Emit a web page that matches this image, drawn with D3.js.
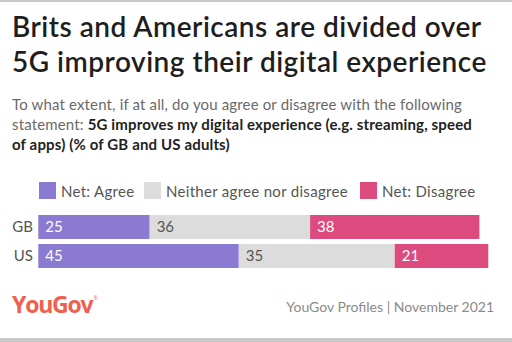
<!DOCTYPE html>
<html>
<head>
<meta charset="utf-8">
<script src="https://cdn.jsdelivr.net/npm/d3@7"></script>
<style>
  body { margin: 0; background: #fff; }
  svg { display: block; font-family: Lato, "Open Sans", sans-serif; }
</style>
</head>
<body>
<svg id="chart" width="512" height="342"></svg>
<script>
const countries = ["GB", "US"];
const seriesNames = ["Net: Agree", "Neither agree nor disagree", "Net: Disagree"];
const agree = [25, 45];
const neither = [36, 35];
const disagree = [38, 21];
const seriesColors = ["#8a7ad2", "#dcdcdc", "#dc4a7e"];
const labelColors = ["#ffffff", "#555555", "#ffffff"];

const svg = d3.select("#chart");

// frame lines top and bottom
svg.append("rect").attr("x", 0).attr("y", 0).attr("width", 512).attr("height", 2).attr("fill", "#c8c8c8");
svg.append("rect").attr("x", 0).attr("y", 338).attr("width", 512).attr("height", 4).attr("fill", "#c8c8c8");

// title
const title = svg.append("text")
    .attr("fill", "#1e1e1e")
    .style("font-size", "28px")
    .style("font-weight", "600")
    .style("letter-spacing", "0.5px");
title.append("tspan").attr("x", 12).attr("y", 37).text("Brits and Americans are divided over");
title.append("tspan").attr("x", 12).attr("y", 72).text("5G improving their digital experience");

// subtitle with bold statement
const sub = svg.append("text").style("font-size", "15px").style("letter-spacing", "0.15px");
sub.append("tspan").attr("x", 12).attr("y", 110).attr("fill", "#6a6a6a")
    .text("To what extent, if at all, do you agree or disagree with the following");
sub.append("tspan").attr("x", 12).attr("y", 130).attr("fill", "#6a6a6a").text("statement: ");
sub.append("tspan").attr("fill", "#222").style("font-weight", "700")
    .text("5G improves my digital experience (e.g. streaming, speed");
sub.append("tspan").attr("x", 12).attr("y", 150).attr("fill", "#222").style("font-weight", "700")
    .text("of apps) (% of GB and US adults)");

// legend
const legendX = [39, 144, 360];
const legend = svg.selectAll("g.legend")
    .data(seriesNames)
    .enter()
    .append("g")
    .attr("class", "legend")
    .attr("transform", (d, i) => `translate(${legendX[i]},182)`);
legend.append("rect")
    .attr("width", 17)
    .attr("height", 17)
    .attr("fill", (d, i) => seriesColors[i]);
legend.append("text")
    .attr("x", 22)
    .attr("y", 14.5)
    .attr("fill", "#555")
    .style("font-size", "15px")
    .style("letter-spacing", "0.3px")
    .text(d => d);

// stacked bars
const rows = countries.map((c, i) => ({ country: c, agree: agree[i], neither: neither[i], disagree: disagree[i] }));
const keys = ["agree", "neither", "disagree"];
const stack = d3.stack().keys(keys)(rows);

const x = d3.scaleLinear().domain([0, 101]).range([38.3, 488.3]);
const y = d3.scaleBand().domain(countries).range([215, 268]).paddingInner(5 / 29).paddingOuter(0);

const layers = svg.selectAll("g.layer")
    .data(stack)
    .enter()
    .append("g")
    .attr("class", "layer");

layers.selectAll("rect")
    .data(d => d)
    .enter()
    .append("rect")
    .attr("x", d => x(d[0]))
    .attr("y", d => y(d.data.country))
    .attr("width", d => x(d[1]) - x(d[0]))
    .attr("height", y.bandwidth())
    .attr("fill", function() { return seriesColors[keys.indexOf(d3.select(this.parentNode).datum().key)]; });

layers.each(function(layer, li) {
    d3.select(this).selectAll("text")
        .data(layer)
        .enter()
        .append("text")
        .attr("x", d => x(d[0]) + 7)
        .attr("y", d => y(d.data.country) + y.bandwidth() / 2)
        .attr("dy", "0.36em")
        .attr("fill", labelColors[li])
        .style("font-size", "15px")
        .text(d => d[1] - d[0]);
});

// category labels
svg.selectAll("text.cat")
    .data(countries)
    .enter()
    .append("text")
    .attr("class", "cat")
    .attr("x", 33)
    .attr("y", d => y(d) + y.bandwidth() / 2)
    .attr("dy", "0.36em")
    .attr("text-anchor", "end")
    .attr("fill", "#555")
    .style("font-size", "15px")
    .text(d => d);

// footer
const logo = svg.append("text")
    .attr("x", 12)
    .attr("y", 313)
    .attr("fill", "#f0604f")
    .style("font-family", "'Open Sans', sans-serif")
    .style("font-size", "23px")
    .style("font-weight", "700")
    .style("letter-spacing", "-1.2px")
    .text("YouGov");
logo.append("tspan")
    .attr("dx", 1)
    .attr("dy", -13)
    .style("font-size", "5px")
    .style("font-weight", "400")
    .style("letter-spacing", "0px")
    .text("®");

svg.append("text")
    .attr("x", 494)
    .attr("y", 312)
    .attr("text-anchor", "end")
    .attr("fill", "#8a8a8a")
    .style("font-size", "14px")
    .text("YouGov Profiles | November 2021");
</script>
</body>
</html>
